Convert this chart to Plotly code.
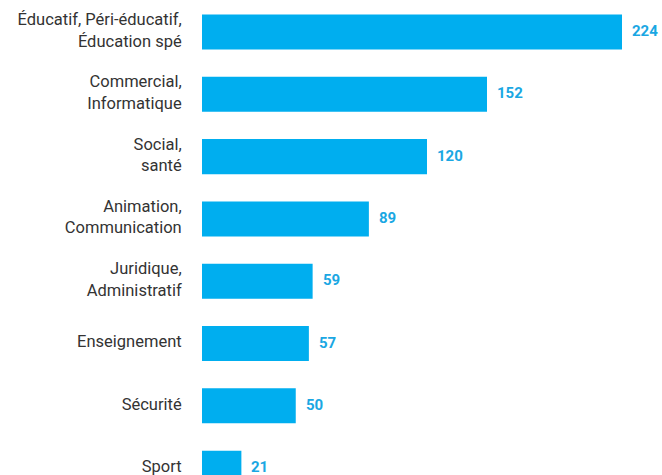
import plotly.graph_objects as go

categories = [
    "Éducatif, Péri-éducatif,<br>Éducation spé",
    "Commercial,<br>Informatique",
    "Social,<br>santé",
    "Animation,<br>Communication",
    "Juridique,<br>Administratif",
    "Enseignement",
    "Sécurité",
    "Sport",
]
values = [224, 152, 120, 89, 59, 57, 50, 21]

BAR = "#00AEEF"

fig = go.Figure()
fig.add_trace(go.Bar(
    y=categories, x=values, orientation="h",
    marker=dict(color=BAR, line=dict(width=0)),
    width=0.562,
    hoverinfo="skip",
))

for c, v in zip(categories, values):
    fig.add_annotation(
        x=v, y=c, text=f"<b>{v}</b>", showarrow=False,
        xanchor="left", xshift=8, yshift=1,
        font=dict(family="Roboto", size=15, color="#1AA7E3"),
    )

fig.update_layout(
    width=662, height=475,
    margin=dict(l=202, r=40, t=0, b=0),
    plot_bgcolor="white", paper_bgcolor="white",
    showlegend=False,
    xaxis=dict(range=[0, 224], visible=False, fixedrange=True, automargin=False),
    yaxis=dict(
        type="category",
        range=[7.110, -0.514],
        automargin=False,
        fixedrange=True,
        showgrid=False, zeroline=False, showline=False,
        ticks="outside", ticklen=16, tickcolor="rgba(0,0,0,0)",
        ticklabelshift=2,
        tickfont=dict(family="Roboto", size=16.5, color="#333333"),
    ),
)

fig.write_html(
    "out.html",
    config={"displayModeBar": False, "staticPlot": True},
    post_script="document.body.style.margin='0';document.body.style.overflow='hidden';",
)
